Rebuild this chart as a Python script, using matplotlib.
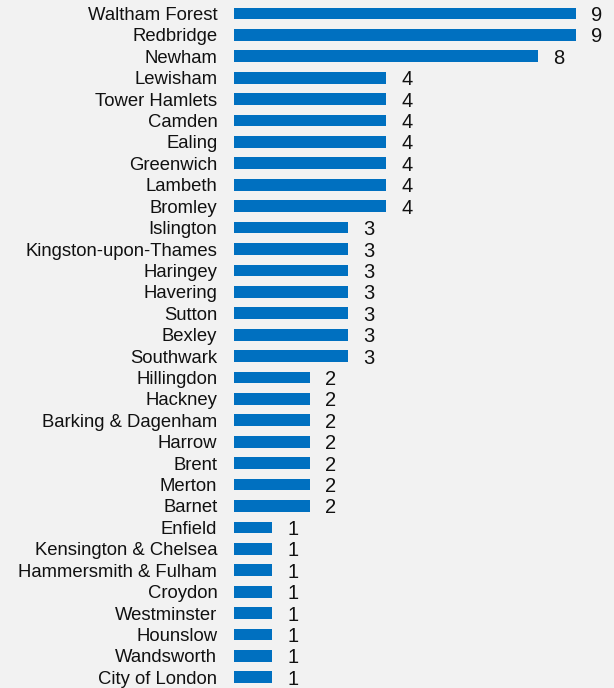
import matplotlib
matplotlib.use("Agg")
import matplotlib.pyplot as plt

boroughs = [
    "Waltham Forest", "Redbridge", "Newham", "Lewisham", "Tower Hamlets",
    "Camden", "Ealing", "Greenwich", "Lambeth", "Bromley", "Islington",
    "Kingston-upon-Thames", "Haringey", "Havering", "Sutton", "Bexley",
    "Southwark", "Hillingdon", "Hackney", "Barking & Dagenham", "Harrow",
    "Brent", "Merton", "Barnet", "Enfield", "Kensington & Chelsea",
    "Hammersmith & Fulham", "Croydon", "Westminster", "Hounslow",
    "Wandsworth", "City of London",
]
counts = [9, 9, 8, 4, 4, 4, 4, 4, 4, 4, 3, 3, 3, 3, 3, 3, 3,
          2, 2, 2, 2, 2, 2, 2, 1, 1, 1, 1, 1, 1, 1, 1]

plt.rcParams['font.family'] = ['Liberation Sans', 'DejaVu Sans']

bg = "#F2F2F2"
fig = plt.figure(figsize=(6.14, 6.88), dpi=100, facecolor=bg)
ax = fig.add_axes([0.3811, 0.0, 0.557, 0.996])
ax.set_facecolor(bg)

y = list(range(len(boroughs)))
ax.barh(y, counts, height=0.55, color="#0070C0")

# value labels to the right of each bar
for yi, v in zip(y, counts):
    ax.annotate(str(v), (v, yi), xytext=(11, 0), textcoords="offset points",
                ha="left", va="center_baseline", fontsize=14.5, color="#111111")

ax.set_xlim(0, 9)
ax.set_ylim(len(boroughs) - 0.5, -0.5)
ax.set_yticks(y)
ax.set_yticklabels(boroughs, fontsize=13.3, color="#111111")
ax.tick_params(axis="y", length=0, pad=12)
ax.set_xticks([])
for s in ax.spines.values():
    s.set_visible(False)

fig.savefig("out.png", dpi=100, facecolor=bg)
